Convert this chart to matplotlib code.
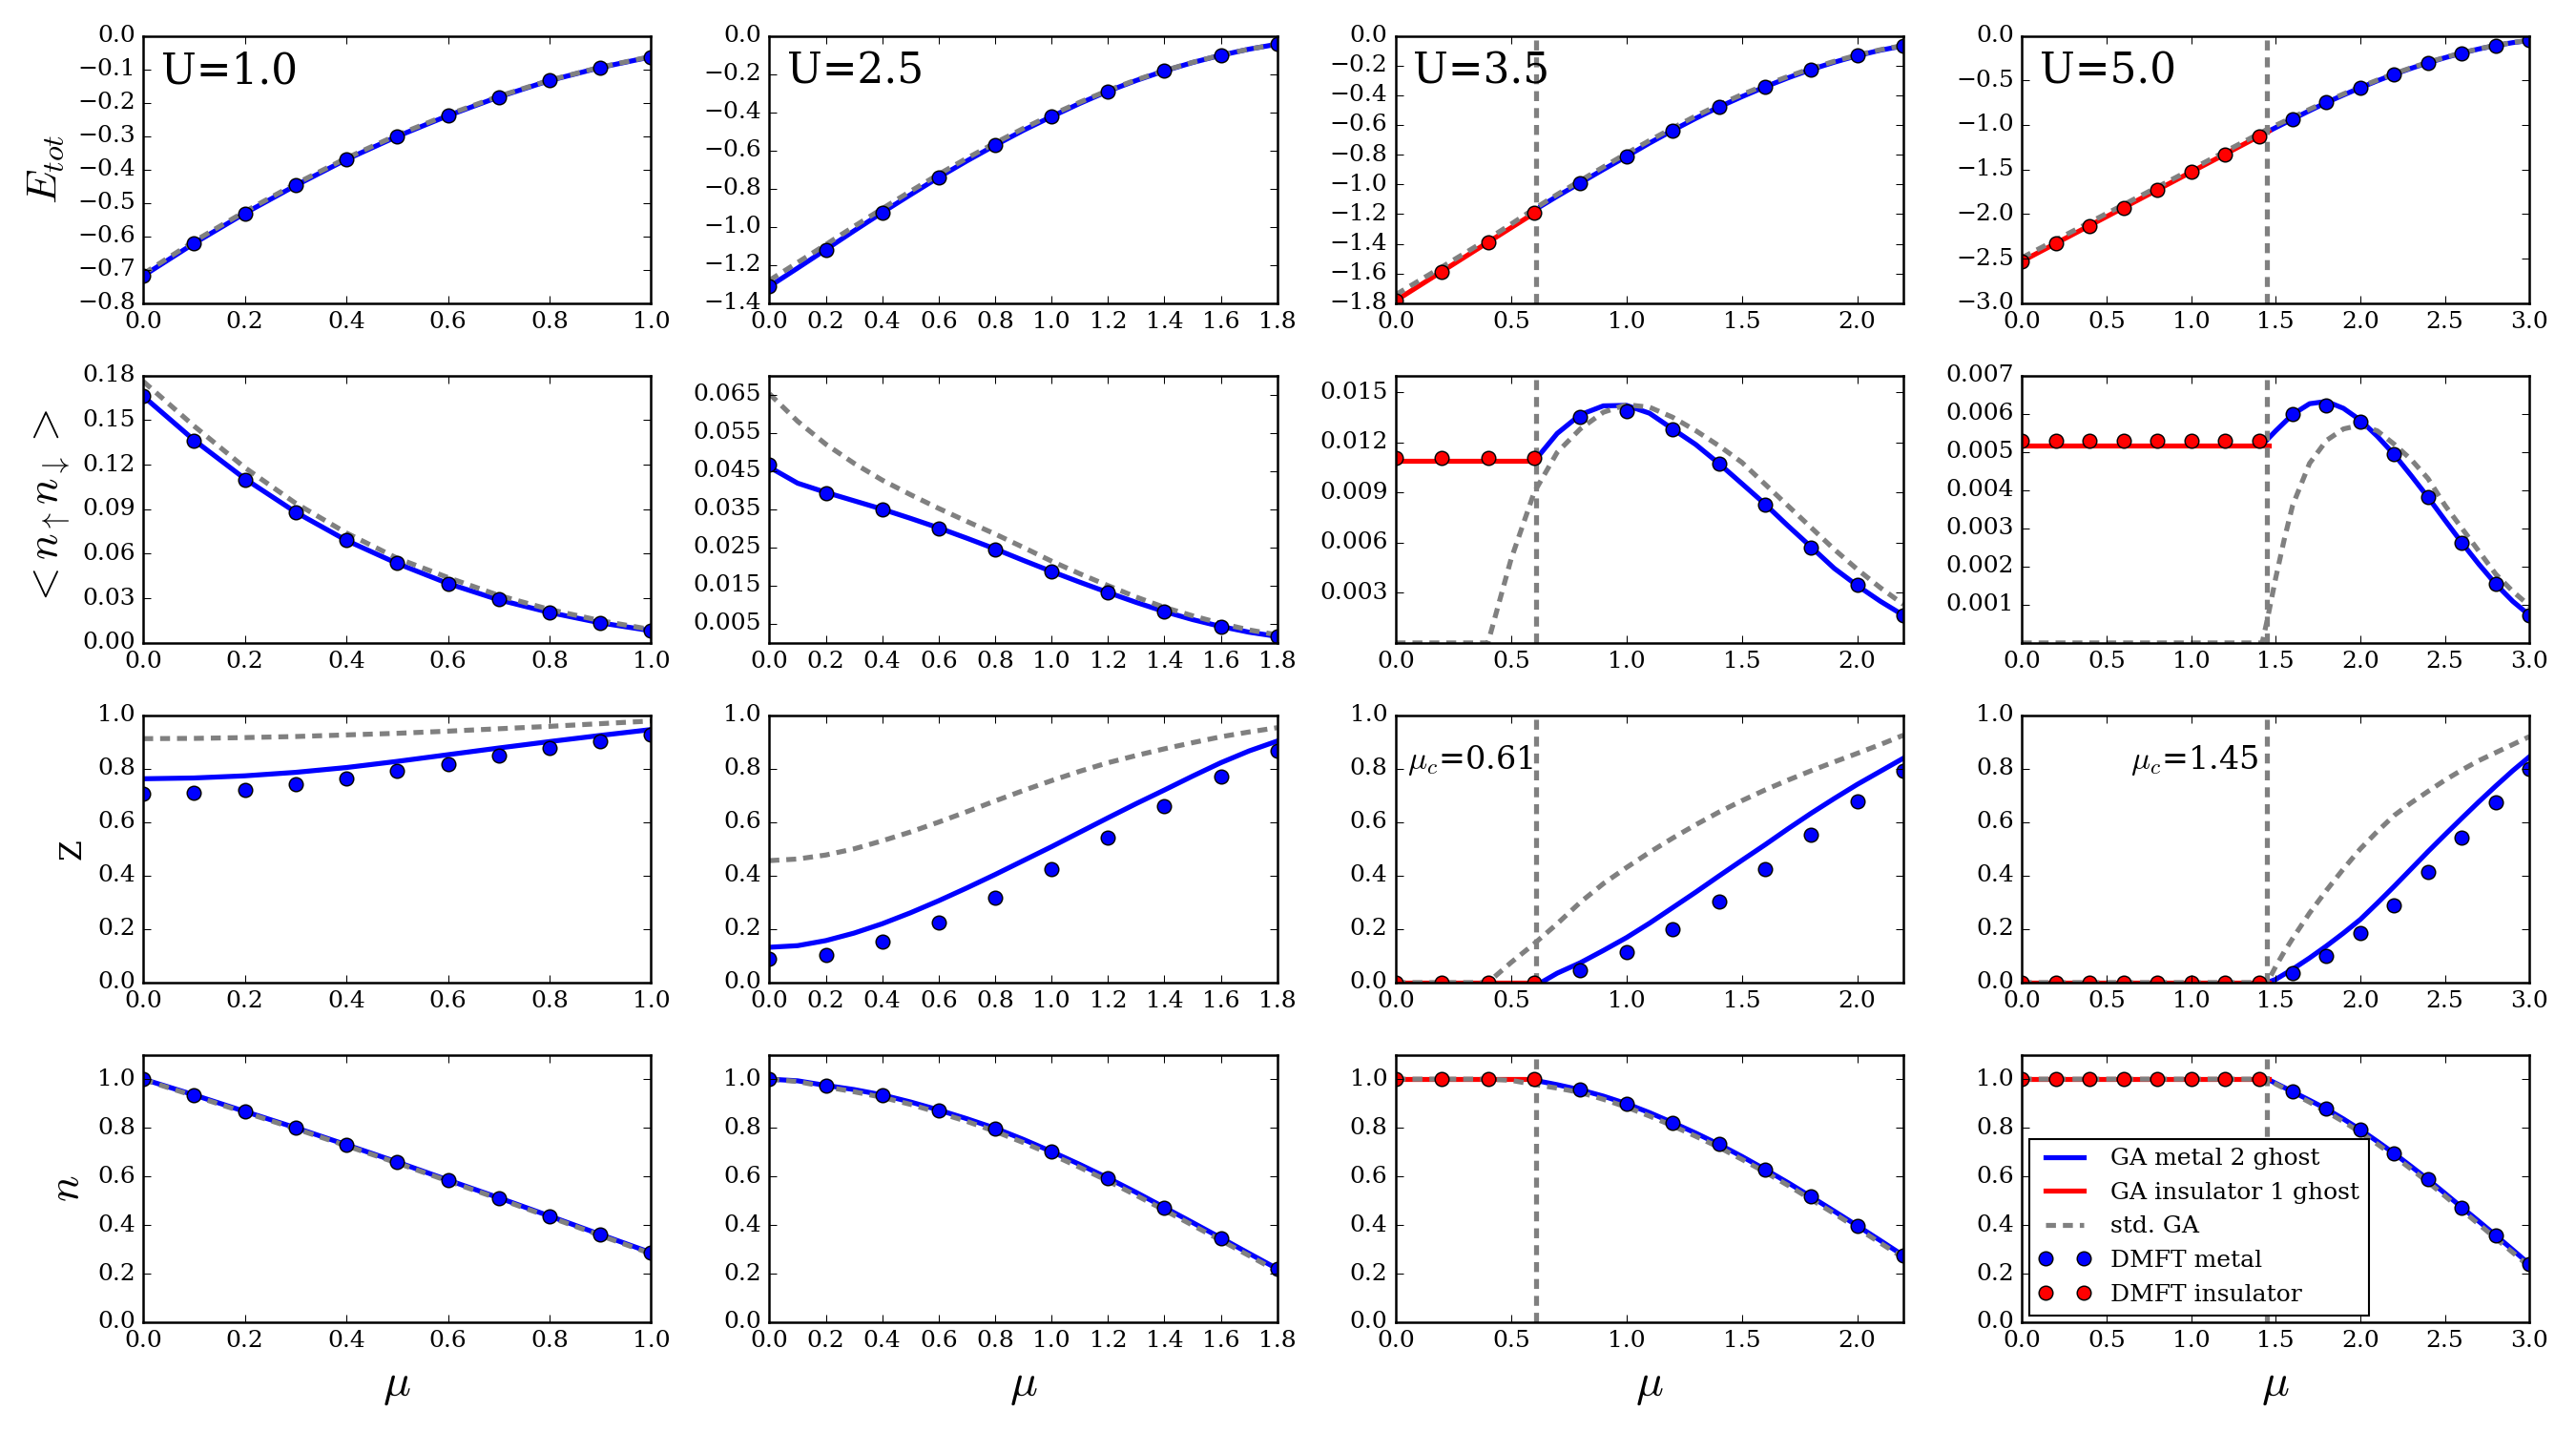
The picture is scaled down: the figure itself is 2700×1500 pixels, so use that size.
import matplotlib
matplotlib.use("Agg")
import matplotlib.pyplot as plt
from matplotlib.lines import Line2D
import numpy as np

# ---------------- U = 1.0 ----------------
mu_1 = [0.0, 0.1, 0.2, 0.3, 0.4, 0.5, 0.6, 0.7, 0.8, 0.9, 1.0]
e_dmft_1 = [-0.718, -0.621, -0.531, -0.448, -0.370, -0.301, -0.239, -0.183, -0.134, -0.095, -0.063]
e_ga_1 = [-0.718, -0.621, -0.531, -0.448, -0.370, -0.301, -0.239, -0.183, -0.134, -0.095, -0.063]
e_std_1 = [-0.712, -0.615, -0.526, -0.443, -0.366, -0.297, -0.236, -0.181, -0.133, -0.094, -0.062]
d_dmft_1 = [0.1664, 0.136, 0.110, 0.0882, 0.0692, 0.0536, 0.0400, 0.0292, 0.0204, 0.0133, 0.0082]
d_ga_1 = [0.166, 0.1365, 0.1105, 0.088, 0.069, 0.0535, 0.040, 0.029, 0.0205, 0.0135, 0.0082]
d_std_1 = [0.176, 0.146, 0.118, 0.094, 0.074, 0.057, 0.044, 0.032, 0.0225, 0.015, 0.009]
z_dmft_1 = [0.706, 0.71, 0.722, 0.74, 0.762, 0.791, 0.816, 0.847, 0.876, 0.901, 0.926]
z_ga_1 = [0.762, 0.765, 0.773, 0.786, 0.804, 0.827, 0.852, 0.877, 0.901, 0.924, 0.946]
z_std_1 = [0.912, 0.913, 0.916, 0.920, 0.926, 0.932, 0.940, 0.949, 0.958, 0.968, 0.978]
n_dmft_1 = [1.0, 0.935, 0.867, 0.8, 0.730, 0.659, 0.585, 0.512, 0.437, 0.361, 0.286]
n_ga_1 = [1.0, 0.935, 0.867, 0.8, 0.730, 0.659, 0.585, 0.512, 0.437, 0.361, 0.286]
n_std_1 = [0.998, 0.931, 0.863, 0.796, 0.726, 0.655, 0.581, 0.508, 0.433, 0.357, 0.282]

# ---------------- U = 2.5 ----------------
mu_2 = [0.0, 0.2, 0.4, 0.6, 0.8, 1.0, 1.2, 1.4, 1.6, 1.8]
mu_2_line = [0.0, 0.1, 0.2, 0.3, 0.4, 0.5, 0.6, 0.7, 0.8, 0.9, 1.0,
             1.1, 1.2, 1.3, 1.4, 1.5, 1.6, 1.7, 1.8]
e_dmft_2 = [-1.312, -1.119, -0.925, -0.741, -0.573, -0.423, -0.290, -0.184, -0.102, -0.044]
e_ga_2 = [-1.312, -1.216, -1.119, -1.021, -0.925, -0.832, -0.741, -0.655, -0.573, -0.495,
          -0.423, -0.354, -0.290, -0.234, -0.184, -0.140, -0.102, -0.070, -0.044]
e_std_2 = [-1.28, -1.187, -1.093, -0.998, -0.905, -0.814, -0.725, -0.641, -0.561, -0.485,
           -0.414, -0.348, -0.286, -0.231, -0.182, -0.139, -0.101, -0.070, -0.044]
d_dmft_2 = [0.0467, 0.0393, 0.0349, 0.0300, 0.0245, 0.0186, 0.0131, 0.0081, 0.0042, 0.0016]
d_ga_2 = [0.046, 0.0418, 0.0394, 0.0372, 0.0350, 0.0326, 0.0301, 0.0274, 0.0246, 0.0216,
          0.0187, 0.0159, 0.0132, 0.0106, 0.0082, 0.0061, 0.0043, 0.0028, 0.0017]
d_std_2 = [0.0652, 0.058, 0.052, 0.047, 0.0426, 0.0388, 0.0352, 0.0318, 0.0285, 0.025,
           0.0214, 0.0181, 0.015, 0.012, 0.0093, 0.0071, 0.0051, 0.0034, 0.0021]
z_dmft_2 = [0.09, 0.105, 0.153, 0.225, 0.317, 0.423, 0.541, 0.659, 0.771, 0.868]
z_ga_2 = [0.132, 0.138, 0.157, 0.185, 0.22, 0.261, 0.306, 0.354, 0.404, 0.456,
          0.508, 0.562, 0.616, 0.669, 0.72, 0.772, 0.822, 0.866, 0.903]
z_std_2 = [0.456, 0.462, 0.477, 0.50, 0.53, 0.563, 0.60, 0.639, 0.679, 0.718,
           0.755, 0.790, 0.822, 0.849, 0.874, 0.897, 0.919, 0.937, 0.953]
n_dmft_2 = [1.0, 0.974, 0.935, 0.873, 0.798, 0.702, 0.593, 0.472, 0.347, 0.22]
n_ga_2 = [1.0, 0.993, 0.974, 0.957, 0.935, 0.906, 0.873, 0.837, 0.798, 0.752,
          0.702, 0.649, 0.593, 0.534, 0.472, 0.410, 0.347, 0.283, 0.22]
n_std_2 = [1.0, 0.99, 0.968, 0.948, 0.925, 0.896, 0.862, 0.826, 0.785, 0.739,
           0.69, 0.637, 0.581, 0.522, 0.461, 0.399, 0.337, 0.274, 0.21]

# ---------------- U = 3.5 ----------------
mu_c_3 = 0.61
mu_3_ins = [0.0, 0.2, 0.4, 0.6]
mu_3_met = [0.8, 1.0, 1.2, 1.4, 1.6, 1.8, 2.0, 2.2]
mu_3_ins_line = [0.0, 0.61]
mu_3_met_line = [0.63, 0.7, 0.8, 0.9, 1.0, 1.1, 1.2, 1.3, 1.4, 1.5, 1.6,
                 1.7, 1.8, 1.9, 2.0, 2.1, 2.2]
mu_3_std = [0.0, 0.1, 0.2, 0.3, 0.4, 0.5, 0.6, 0.7, 0.8, 0.9, 1.0, 1.1,
            1.2, 1.3, 1.4, 1.5, 1.6, 1.7, 1.8, 1.9, 2.0, 2.1, 2.2]
e_dmft_ins_3 = [-1.783, -1.592, -1.393, -1.194]
e_dmft_met_3 = [-0.995, -0.81, -0.637, -0.48, -0.344, -0.227, -0.134, -0.068]
e_ga_ins_3 = [-1.783, -1.184]
e_ga_met_3 = [-1.146, -1.08, -0.99, -0.90, -0.812, -0.722, -0.637, -0.556, -0.480,
              -0.410, -0.344, -0.283, -0.227, -0.178, -0.134, -0.097, -0.068]
e_std_3 = [-1.743, -1.65, -1.557, -1.463, -1.368, -1.268, -1.165, -1.068, -0.975,
           -0.883, -0.792, -0.705, -0.621, -0.54, -0.465, -0.396, -0.333, -0.274,
           -0.22, -0.172, -0.13, -0.094, -0.065]
d_dmft_ins_3 = [0.01108, 0.01108, 0.01108, 0.01108]
d_dmft_met_3 = [0.01352, 0.01388, 0.01277, 0.01071, 0.00827, 0.00572, 0.00347, 0.00165]
d_ga_ins_3 = [0.0109, 0.0109]
d_ga_met_3 = [0.01136, 0.01253, 0.01365, 0.01418, 0.01421, 0.01374, 0.0128, 0.01187,
              0.01074, 0.00953, 0.00831, 0.007, 0.00574, 0.00446, 0.00343, 0.00249, 0.00165]
d_std_3 = [0.0, 0.0, 0.0, 0.0, 0.0, 0.0050, 0.009, 0.0114, 0.0128, 0.0138, 0.01425,
           0.0141, 0.0135, 0.0127, 0.0118, 0.0108, 0.0095, 0.0082, 0.0069, 0.0056,
           0.0044, 0.0033, 0.0023]
z_dmft_ins_3 = [0.0, 0.0, 0.0, 0.0]
z_dmft_met_3 = [0.047, 0.113, 0.2, 0.304, 0.424, 0.551, 0.678, 0.792]
z_ga_ins_3 = [0.0, 0.0]
z_ga_met_3 = [0.0, 0.035, 0.074, 0.12, 0.168, 0.222, 0.28, 0.338, 0.398, 0.457,
              0.515, 0.575, 0.633, 0.688, 0.741, 0.79, 0.839]
z_std_3 = [0.0, 0.0, 0.0, 0.0, 0.0, 0.075, 0.145, 0.22, 0.30, 0.37, 0.43, 0.487,
           0.54, 0.59, 0.637, 0.68, 0.72, 0.757, 0.792, 0.825, 0.857, 0.89, 0.925]
n_dmft_ins_3 = [1.0, 1.0, 1.0, 1.0]
n_dmft_met_3 = [0.956, 0.899, 0.821, 0.732, 0.629, 0.516, 0.397, 0.274]
n_ga_ins_3 = [1.0, 1.0]
n_ga_met_3 = [0.99, 0.977, 0.956, 0.93, 0.899, 0.862, 0.821, 0.778, 0.732, 0.682,
              0.629, 0.574, 0.516, 0.457, 0.397, 0.336, 0.274]
n_std_3 = [1.0, 1.0, 1.0, 1.0, 1.0, 0.995, 0.978, 0.963, 0.945, 0.917, 0.885, 0.848,
           0.808, 0.765, 0.72, 0.67, 0.618, 0.563, 0.505, 0.447, 0.387, 0.326, 0.265]

# ---------------- U = 5.0 ----------------
mu_c_4 = 1.45
mu_4_ins = [0.0, 0.2, 0.4, 0.6, 0.8, 1.0, 1.2, 1.4]
mu_4_met = [1.6, 1.8, 2.0, 2.2, 2.4, 2.6, 2.8, 3.0]
mu_4_ins_line = [0.0, 1.46]
mu_4_met_line = [1.45, 1.5, 1.6, 1.7, 1.8, 1.9, 2.0, 2.1, 2.2, 2.3, 2.4, 2.5,
                 2.6, 2.7, 2.8, 2.9, 3.0]
mu_4_std = [0.0, 0.5, 1.0, 1.42, 1.45, 1.5, 1.55, 1.6, 1.7, 1.8, 1.9, 2.0, 2.1,
            2.2, 2.3, 2.4, 2.5, 2.6, 2.7, 2.8, 2.9, 3.0]
e_dmft_ins_4 = [-2.53, -2.33, -2.13, -1.93, -1.73, -1.53, -1.33, -1.128]
e_dmft_met_4 = [-0.934, -0.749, -0.583, -0.431, -0.303, -0.194, -0.109, -0.052]
e_ga_ins_4 = [-2.53, -1.068]
e_ga_met_4 = [-1.078, -1.03, -0.934, -0.84, -0.749, -0.664, -0.583, -0.505, -0.431,
              -0.365, -0.303, -0.246, -0.194, -0.148, -0.109, -0.077, -0.052]
e_std_4 = [-2.49, -1.995, -1.50, -1.08, -1.05, -1.005, -0.96, -0.915, -0.825, -0.737,
           -0.653, -0.573, -0.497, -0.425, -0.359, -0.298, -0.242, -0.191, -0.146,
           -0.107, -0.075, -0.05]
d_dmft_ins_4 = [0.00528] * 8
d_dmft_met_4 = [0.00598, 0.00621, 0.00579, 0.00493, 0.00381, 0.00262, 0.00154, 0.00072]
d_ga_ins_4 = [0.00517, 0.00517]
d_ga_met_4 = [0.00532, 0.00555, 0.00598, 0.00626, 0.00632, 0.00614, 0.00583, 0.00541,
              0.00493, 0.00438, 0.00381, 0.00321, 0.00262, 0.00206, 0.00154, 0.00109, 0.00072]
d_std_4 = [0.0, 0.0, 0.0, 0.0, 0.0006, 0.0017, 0.0027, 0.0036, 0.0047, 0.0053, 0.0056,
           0.0057, 0.00555, 0.0052, 0.0048, 0.0043, 0.0036, 0.003, 0.0024, 0.0018,
           0.00135, 0.00097]
z_dmft_ins_4 = [0.0] * 8
z_dmft_met_4 = [0.035, 0.098, 0.186, 0.289, 0.412, 0.542, 0.674, 0.798]
z_ga_ins_4 = [0.0, 0.0]
z_ga_met_4 = [0.0, 0.012, 0.05, 0.092, 0.137, 0.185, 0.236, 0.297, 0.36, 0.425,
              0.49, 0.553, 0.615, 0.676, 0.735, 0.792, 0.845]
z_std_4 = [0.0, 0.0, 0.0, 0.0, 0.0, 0.06, 0.115, 0.165, 0.26, 0.345, 0.425, 0.50,
           0.565, 0.625, 0.672, 0.715, 0.757, 0.795, 0.83, 0.86, 0.89, 0.92]
n_dmft_ins_4 = [1.0] * 8
n_dmft_met_4 = [0.948, 0.877, 0.792, 0.694, 0.587, 0.472, 0.357, 0.238]
n_ga_ins_4 = [1.0, 1.0]
n_ga_met_4 = [1.0, 0.983, 0.948, 0.913, 0.877, 0.836, 0.792, 0.744, 0.694, 0.641,
              0.587, 0.53, 0.472, 0.415, 0.357, 0.298, 0.238]
n_std_4 = [1.0, 1.0, 1.0, 1.0, 1.0, 0.98, 0.962, 0.942, 0.905, 0.866, 0.825, 0.781,
           0.733, 0.683, 0.63, 0.576, 0.519, 0.461, 0.403, 0.345, 0.287, 0.228]

u_labels = ["U=1.0", "U=2.5", "U=3.5", "U=5.0"]
row_labels = [r"$E_{tot}$", r"$<n_\uparrow n_\downarrow>$", "Z", r"$n$"]
legend_labels = ["GA metal 2 ghost", "GA insulator 1 ghost", "std. GA",
                 "DMFT metal", "DMFT insulator"]

# style
plt.style.use("classic")
plt.rcParams["font.family"] = "serif"
plt.rcParams["font.serif"] = ["DejaVu Serif"]
plt.rcParams["mathtext.fontset"] = "cm"
plt.rcParams["figure.facecolor"] = "white"
plt.rcParams["savefig.facecolor"] = "white"
plt.rcParams["lines.scale_dashes"] = False
plt.rcParams["axes.linewidth"] = 1.2
plt.rcParams["font.size"] = 12

BLUE, RED, GRAY = "#0000ff", "#ff0000", "#808080"
LW = 2.5
DASH = (5, 3.5)
MS = 7

fig, axes = plt.subplots(4, 4, figsize=(18, 10), dpi=150)
fig.subplots_adjust(left=0.0556, right=0.982, top=0.975, bottom=0.076,
                    wspace=0.233, hspace=0.27)


def draw(ax, met_line, ins_line, std_line, met_pts, ins_pts, mu_c):
    ax.plot(*met_line, color=BLUE, lw=LW)
    if ins_line is not None:
        ax.plot(*ins_line, color=RED, lw=LW)
    ax.plot(*std_line, color=GRAY, lw=LW, dashes=DASH)
    if mu_c is not None:
        ax.axvline(mu_c, color=GRAY, lw=LW, dashes=DASH)
    ax.plot(*met_pts, "o", color=BLUE, mec="k", mew=0.7, ms=MS)
    if ins_pts is not None:
        ax.plot(*ins_pts, "o", color=RED, mec="k", mew=0.7, ms=MS)


# column 1
col = 0
draw(axes[0, col], (mu_1, e_ga_1), None, (mu_1, e_std_1), (mu_1, e_dmft_1), None, None)
draw(axes[1, col], (mu_1, d_ga_1), None, (mu_1, d_std_1), (mu_1, d_dmft_1), None, None)
draw(axes[2, col], (mu_1, z_ga_1), None, (mu_1, z_std_1), (mu_1, z_dmft_1), None, None)
draw(axes[3, col], (mu_1, n_ga_1), None, (mu_1, n_std_1), (mu_1, n_dmft_1), None, None)

# column 2
col = 1
draw(axes[0, col], (mu_2_line, e_ga_2), None, (mu_2_line, e_std_2), (mu_2, e_dmft_2), None, None)
draw(axes[1, col], (mu_2_line, d_ga_2), None, (mu_2_line, d_std_2), (mu_2, d_dmft_2), None, None)
draw(axes[2, col], (mu_2_line, z_ga_2), None, (mu_2_line, z_std_2), (mu_2, z_dmft_2), None, None)
draw(axes[3, col], (mu_2_line, n_ga_2), None, (mu_2_line, n_std_2), (mu_2, n_dmft_2), None, None)

# column 3
col = 2
for r, (ga_m, ga_i, std, dm, di) in enumerate([
        (e_ga_met_3, e_ga_ins_3, e_std_3, e_dmft_met_3, e_dmft_ins_3),
        (d_ga_met_3, d_ga_ins_3, d_std_3, d_dmft_met_3, d_dmft_ins_3),
        (z_ga_met_3, z_ga_ins_3, z_std_3, z_dmft_met_3, z_dmft_ins_3),
        (n_ga_met_3, n_ga_ins_3, n_std_3, n_dmft_met_3, n_dmft_ins_3)]):
    draw(axes[r, col], (mu_3_met_line, ga_m), (mu_3_ins_line, ga_i),
         (mu_3_std, std), (mu_3_met, dm), (mu_3_ins, di), mu_c_3)

# column 4
col = 3
for r, (ga_m, ga_i, std, dm, di) in enumerate([
        (e_ga_met_4, e_ga_ins_4, e_std_4, e_dmft_met_4, e_dmft_ins_4),
        (d_ga_met_4, d_ga_ins_4, d_std_4, d_dmft_met_4, d_dmft_ins_4),
        (z_ga_met_4, z_ga_ins_4, z_std_4, z_dmft_met_4, z_dmft_ins_4),
        (n_ga_met_4, n_ga_ins_4, n_std_4, n_dmft_met_4, n_dmft_ins_4)]):
    draw(axes[r, col], (mu_4_met_line, ga_m), (mu_4_ins_line, ga_i),
         (mu_4_std, std), (mu_4_met, dm), (mu_4_ins, di), mu_c_4)

# axes ranges and ticks
xlims = [(0, 1.0), (0, 1.8), (0, 2.2), (0, 3.0)]
xticks = [np.arange(0, 1.01, 0.2), np.arange(0, 1.81, 0.2),
          np.arange(0, 2.01, 0.5), np.arange(0, 3.01, 0.5)]
e_ylims = [(-0.8, 0), (-1.4, 0), (-1.8, 0), (-3.0, 0)]
e_yticks = [np.arange(-0.8, 0.01, 0.1), np.arange(-1.4, 0.01, 0.2),
            np.arange(-1.8, 0.01, 0.2), np.arange(-3.0, 0.01, 0.5)]
d_ylims = [(0, 0.18), (0, 0.07), (0, 0.016), (0, 0.007)]
d_yticks = [np.arange(0, 0.181, 0.03), np.arange(0.005, 0.066, 0.01),
            np.arange(0.003, 0.0151, 0.003), np.arange(0.001, 0.0071, 0.001)]

for c in range(4):
    for r in range(4):
        ax = axes[r, c]
        ax.set_xlim(*xlims[c])
        ax.set_xticks(xticks[c])
        ax.tick_params(labelsize=12)
    axes[0, c].set_ylim(*e_ylims[c])
    axes[0, c].set_yticks(e_yticks[c])
    axes[1, c].set_ylim(*d_ylims[c])
    axes[1, c].set_yticks(d_yticks[c])
    axes[2, c].set_ylim(0, 1.0)
    axes[2, c].set_yticks(np.arange(0, 1.01, 0.2))
    axes[3, c].set_ylim(0, 1.1)
    axes[3, c].set_yticks(np.arange(0, 1.01, 0.2))
    axes[3, c].set_xlabel(r"$\mu$", fontsize=23)
    axes[0, c].text(0.035, 0.82, u_labels[c], transform=axes[0, c].transAxes,
                    fontsize=21, va="baseline")

for r in range(4):
    axes[r, 0].set_ylabel(row_labels[r], fontsize=15 if r == 2 else 22)

axes[2, 2].text(0.05, 0.80, r"$\mu_c$=0.61", fontsize=16, va="baseline")
axes[2, 3].text(1.40, 0.80, r"$\mu_c$=1.45", fontsize=16, va="baseline", ha="right")

handles = [Line2D([], [], color=BLUE, lw=LW),
           Line2D([], [], color=RED, lw=LW),
           Line2D([], [], color=GRAY, lw=LW, dashes=DASH),
           Line2D([], [], ls="none", marker="o", color=BLUE, mec="k", mew=0.7, ms=MS),
           Line2D([], [], ls="none", marker="o", color=RED, mec="k", mew=0.7, ms=MS)]
axes[3, 3].legend(handles, legend_labels, loc="lower left", fontsize=12,
                  numpoints=2, borderaxespad=0.3, handlelength=2.2)

fig.savefig("out.png", dpi=150)
